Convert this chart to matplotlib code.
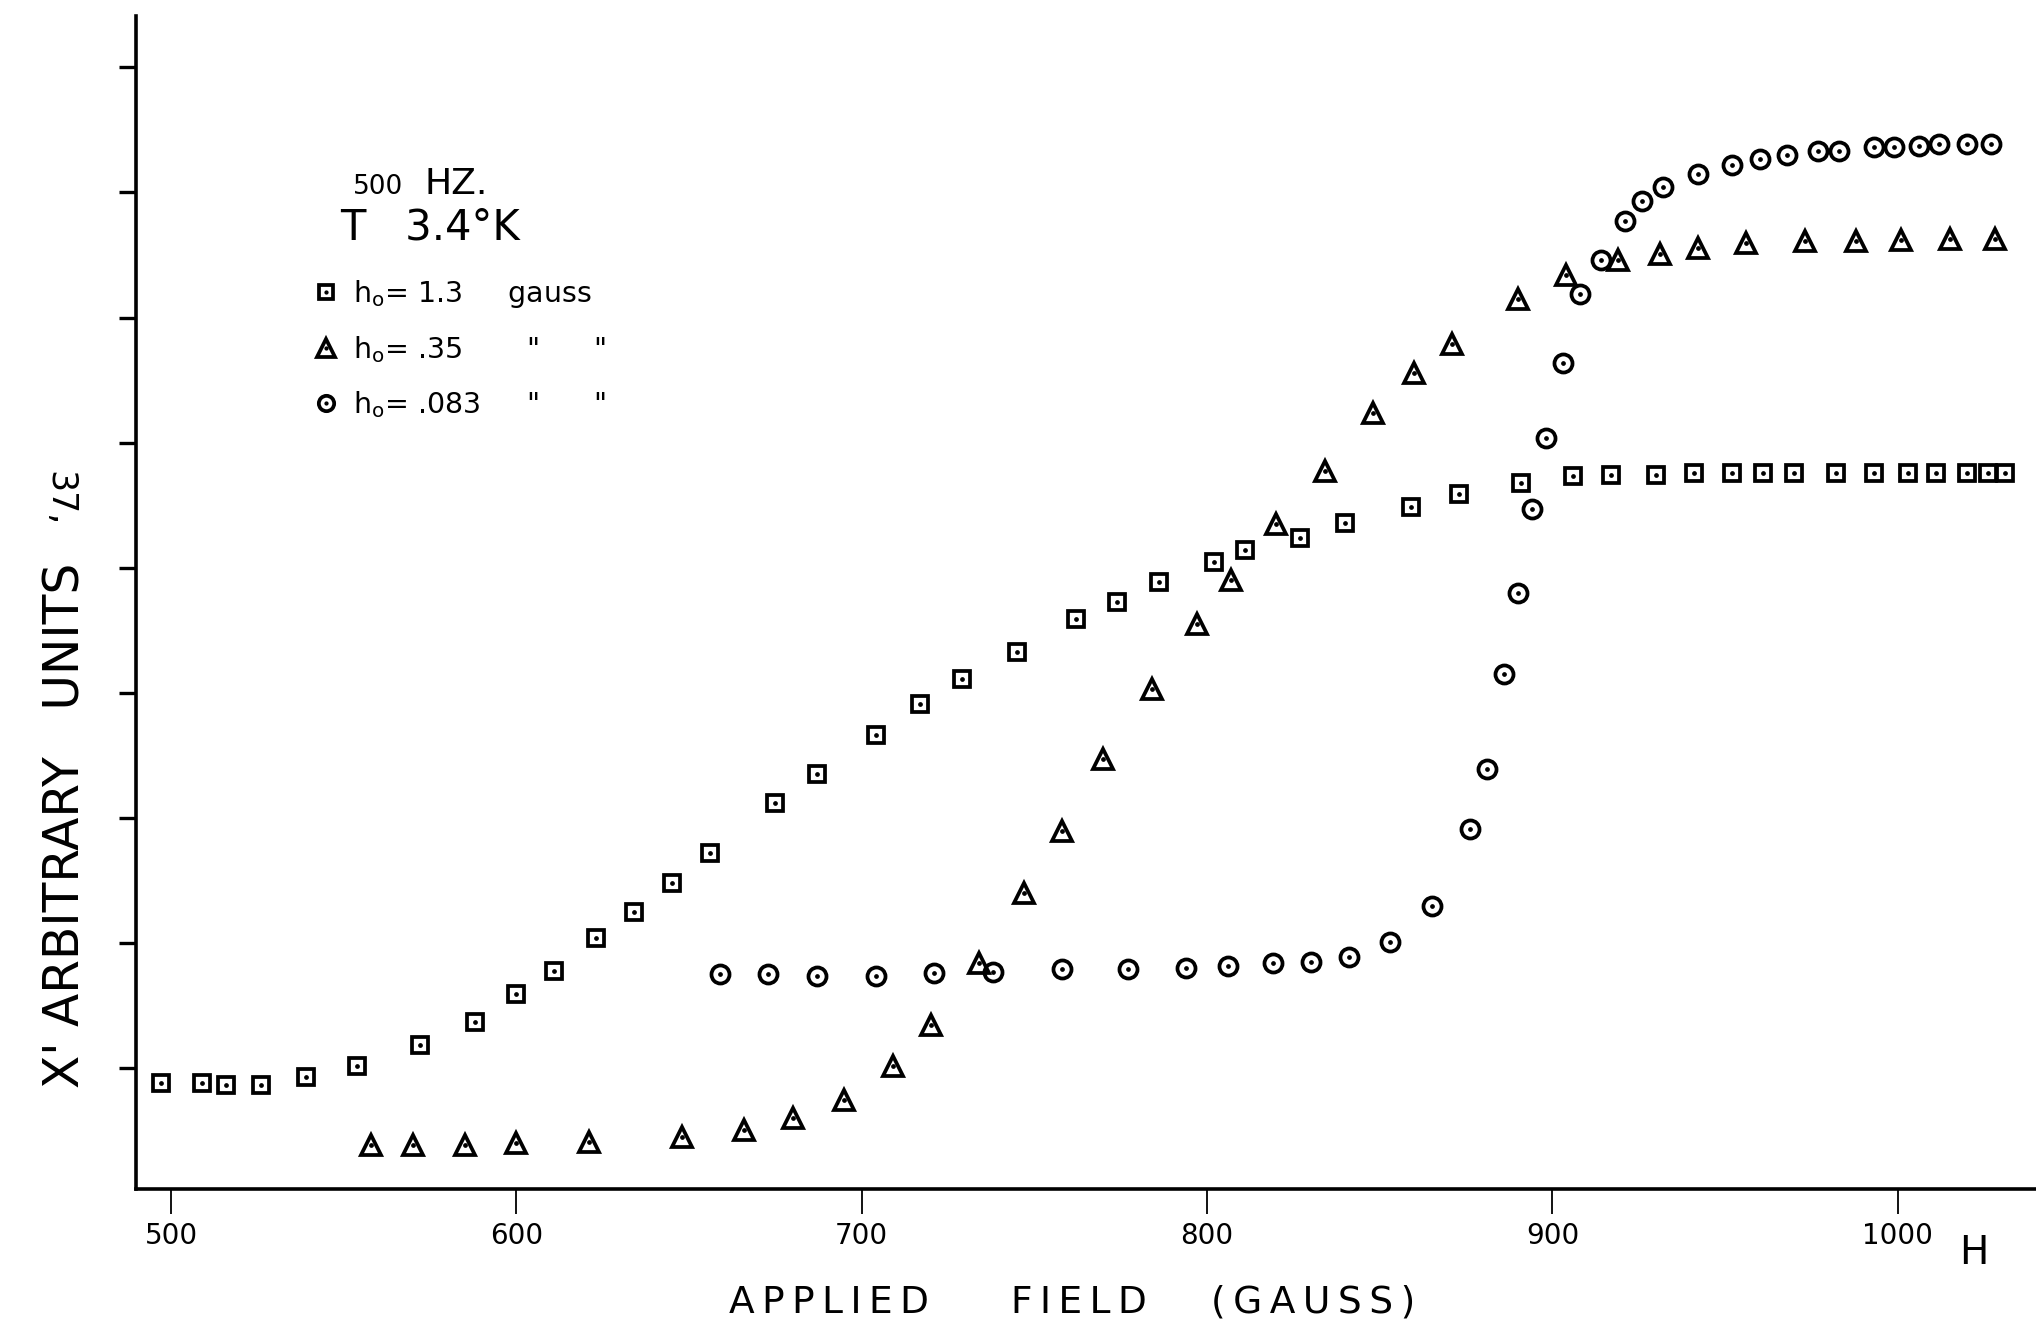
import numpy as np
from matplotlib import pyplot as plt

# applied field H (gauss) and chi' (arbitrary units)
# h_o = 1.3 gauss (squares)
h_sq = [497, 509, 516, 526, 539, 554, 572, 588, 600, 611,
        623, 634, 645, 656, 675, 687, 704, 717, 729, 745,
        762, 774, 786, 802, 811, 827, 840, 859, 873, 891,
        906, 917, 930, 941, 952, 961, 970, 982, 993, 1003,
        1011, 1020, 1026, 1031]
chi_sq = [0.88, 0.88, 0.87, 0.87, 0.93, 1.02, 1.19, 1.37, 1.59, 1.78,
          2.04, 2.25, 2.48, 2.72, 3.12, 3.35, 3.66, 3.91, 4.11, 4.33,
          4.59, 4.73, 4.89, 5.05, 5.14, 5.24, 5.36, 5.49, 5.59, 5.68,
          5.73, 5.74, 5.74, 5.76, 5.76, 5.76, 5.76, 5.76, 5.76, 5.76,
          5.76, 5.76, 5.76, 5.76]

# h_o = .35 gauss (triangles)
h_tri = [558, 570, 585, 600, 621, 648, 666, 680, 695, 709,
         720, 734, 747, 758, 770, 784, 797, 807, 820, 834,
         848, 860, 871, 890, 904, 919, 931, 942, 956, 973,
         988, 1001, 1015, 1028]
chi_tri = [0.39, 0.39, 0.39, 0.40, 0.41, 0.45, 0.51, 0.60, 0.75, 1.02,
           1.35, 1.84, 2.40, 2.90, 3.47, 4.03, 4.55, 4.90, 5.35, 5.77,
           6.24, 6.56, 6.79, 7.15, 7.34, 7.46, 7.51, 7.56, 7.60, 7.61,
           7.61, 7.62, 7.63, 7.63]

# h_o = .083 gauss (circles)
h_circ = [659, 673, 687, 704, 721, 738, 758, 777, 794, 806,
          819, 830, 841, 853, 865, 876, 881, 886, 890, 894,
          898, 903, 908, 914, 921, 926, 932, 942, 952, 960,
          968, 977, 983, 993, 999, 1006, 1012, 1020, 1027]
chi_circ = [1.75, 1.75, 1.74, 1.74, 1.76, 1.77, 1.79, 1.79, 1.80, 1.82,
            1.84, 1.85, 1.89, 2.01, 2.30, 2.91, 3.39, 4.15, 4.80, 5.47,
            6.04, 6.64, 7.19, 7.46, 7.77, 7.93, 8.04, 8.15, 8.22, 8.27,
            8.30, 8.33, 8.33, 8.36, 8.36, 8.37, 8.39, 8.39, 8.39]

x_ticks = [500, 600, 700, 800, 900, 1000]
x_tick_labels = ['500', '600', '700', '800', '900', '1000']
y_ticks = [1, 2, 3, 4, 5, 6, 7, 8, 9]

legend_labels = [r'h$_{\rm o}$= 1.3     gauss',
                 r'h$_{\rm o}$= .35       "      "',
                 r'h$_{\rm o}$= .083     "      "']

def spaced(word):
  # letter-spaced capitals like the original lettering
  return '\u2009'.join(word)

fig = plt.figure(figsize=(20.36, 13.36), dpi=100)
ax = fig.add_axes([0.067, 0.11, 0.933, 0.878])

ax.set_xlim(490, 1040)
ax.set_ylim(0.035, 9.41)

def plot_series(x, y, marker, size):
  outer, = ax.plot(x, y, linestyle='none', marker=marker, markersize=size,
                   markerfacecolor='none', markeredgecolor='black', markeredgewidth=2.7)
  inner, = ax.plot(x, y, linestyle='none', marker='o', markersize=2.4,
                   color='black')
  return outer, inner

sq = plot_series(h_sq, chi_sq, 's', 12)
tri = plot_series(h_tri, chi_tri, '^', 14.5)
circ = plot_series(h_circ, chi_circ, 'o', 13)

for side in ['top', 'right']:
  ax.spines[side].set_visible(False)
ax.spines['left'].set_linewidth(2.6)
ax.spines['bottom'].set_linewidth(2.6)

ax.set_xticks(x_ticks)
ax.set_xticklabels(x_tick_labels, fontsize=20)
ax.tick_params(axis='x', direction='out', length=18, width=1.3, pad=6)
ax.set_yticks(y_ticks)
ax.set_yticklabels([])
ax.tick_params(axis='y', direction='out', length=12, width=2.4)

ax.legend([sq, tri, circ], legend_labels, loc='upper left',
          bbox_to_anchor=(0.153, 0.792), bbox_transform=fig.transFigure,
          frameon=False, fontsize=20.5, handlelength=1.0, handletextpad=0.45,
          labelspacing=0.85, borderpad=0, borderaxespad=0, markerscale=0.85)

fig.text(0.1735, 0.855, '500', fontsize=19, va='baseline', ha='left')
fig.text(0.2085, 0.855, 'HZ.', fontsize=26, va='baseline', ha='left')
fig.text(0.167, 0.830, 'T   3.4°K', fontsize=30, va='center', ha='left')

fig.text(0.032, 0.382, "X' ARBITRARY   UNITS", fontsize=35, rotation=90,
         va='center', ha='center')
fig.text(0.029, 0.627, '37,', fontsize=25, rotation=-90, va='center', ha='center')

fig.text(0.407, 0.025, spaced('APPLIED'), fontsize=27, va='center', ha='center')
fig.text(0.530, 0.025, spaced('FIELD'), fontsize=27, va='center', ha='center')
fig.text(0.645, 0.025, spaced('(GAUSS)'), fontsize=27, va='center', ha='center')
fig.text(0.962, 0.062, 'H', fontsize=28, va='center', ha='left')

fig.savefig('out.png', dpi=100)
